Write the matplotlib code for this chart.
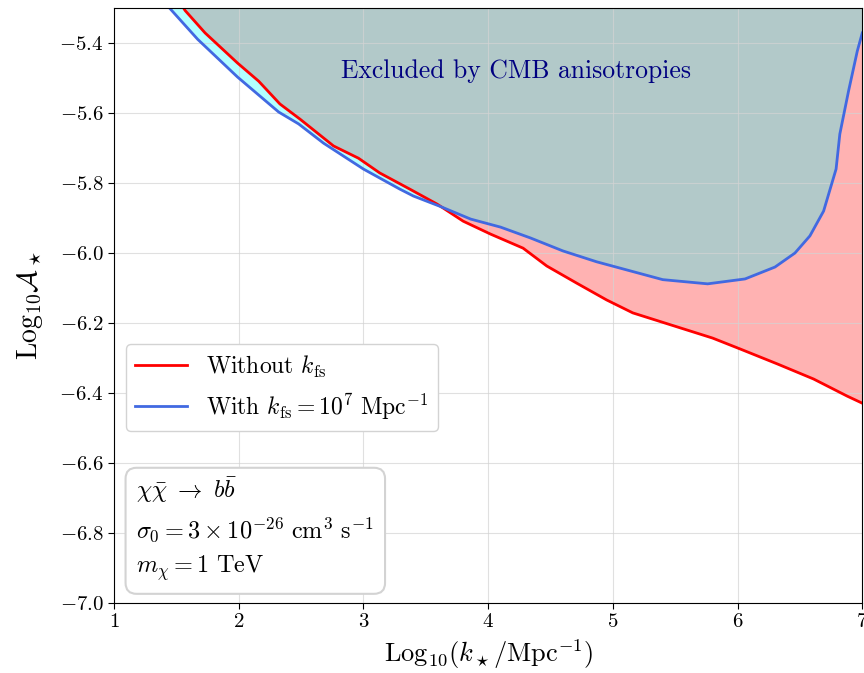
import matplotlib
matplotlib.use('Agg')
import matplotlib.pyplot as plt
import numpy as np

plt.rcParams['font.family'] = 'serif'
plt.rcParams['font.serif'] = ['cmr10']
plt.rcParams['mathtext.fontset'] = 'cm'
plt.rcParams['axes.formatter.use_mathtext'] = True

# log10(k_star / Mpc^-1) vs log10(A_star) bounds
logk_nofs = [1.54, 1.57, 1.73, 1.99, 2.16, 2.33, 2.49, 2.76, 2.96, 3.13, 3.37, 3.59,
             3.80, 4.02, 4.28, 4.47, 4.71, 4.95, 5.16, 5.80, 6.02, 6.32, 6.61, 6.88, 7.0]
logA_nofs = [-5.29, -5.307, -5.371, -5.457, -5.509, -5.574, -5.617, -5.694, -5.729, -5.771,
             -5.817, -5.860, -5.909, -5.946, -5.986, -6.037, -6.086, -6.134, -6.171, -6.243,
             -6.274, -6.317, -6.360, -6.409, -6.429]

logk_fs = [1.41, 1.43, 1.67, 1.99, 2.32, 2.48, 2.68, 3.00, 3.29, 3.40, 3.61, 3.86, 4.10,
           4.34, 4.60, 4.87, 5.40, 5.76, 6.06, 6.30, 6.46, 6.58, 6.69, 6.79, 6.82,
           6.89, 6.96, 7.0]
logA_fs = [-5.29, -5.294, -5.389, -5.497, -5.597, -5.631, -5.686, -5.760, -5.817, -5.837,
           -5.866, -5.903, -5.926, -5.957, -5.994, -6.025, -6.076, -6.088, -6.074,
           -6.040, -6.000, -5.951, -5.880, -5.760, -5.660, -5.537, -5.423, -5.371]

ymin, ymax = -7.0, -5.3

fig = plt.figure(figsize=(8.64, 6.73), dpi=100)
ax = fig.add_axes([0.132, 0.104, 0.866, 0.884])

ax.fill_between(logk_nofs, logA_nofs, ymax + 0.5, color='red', alpha=0.3, lw=0)
ax.fill_between(logk_fs, logA_fs, ymax + 0.5, color='cyan', alpha=0.3, lw=0)
ax.plot(logk_nofs, logA_nofs, color='red', lw=2, label=r'Without $k_{\rm fs}$')
ax.plot(logk_fs, logA_fs, color='royalblue', lw=2,
        label=r'With $k_{\rm fs} = 10^7\ {\rm Mpc}^{-1}$')

ax.text(4.22, -5.48, 'Excluded by CMB anisotropies', color='navy', fontsize=18.5,
        ha='center', va='center')

ax.set_xlim(1, 7)
ax.set_ylim(ymin, ymax)
ax.set_yticks(np.arange(-7.0, -5.39, 0.2))
ax.grid(True, color='lightgray', alpha=0.7)
ax.tick_params(labelsize=15, direction='out', length=4)

ax.set_xlabel(r'Log$_{10}(k_\star/{\rm Mpc}^{-1})$', fontsize=19, labelpad=4)
ax.set_ylabel(r'Log$_{10}\mathcal{A}_\star$', fontsize=20, labelpad=10)

ax.legend(loc='upper left', bbox_to_anchor=(0.0, 0.455), fontsize=17,
          framealpha=1, edgecolor='lightgray', handlelength=2.2)

info = (r'$\chi\bar{\chi}\ \rightarrow\ b\bar{b}$' + '\n'
        r'$\sigma_0 = 3\times10^{-26}\ {\rm cm}^3\ {\rm s}^{-1}$' + '\n'
        r'$m_\chi = 1\ {\rm TeV}$')
ax.text(0.03, 0.124, info, transform=ax.transAxes, fontsize=17.5, va='center',
        linespacing=1.45,
        bbox=dict(boxstyle='round,pad=0.45', facecolor='white', edgecolor='lightgray', lw=1.5))

fig.savefig('out.png', dpi=100)
